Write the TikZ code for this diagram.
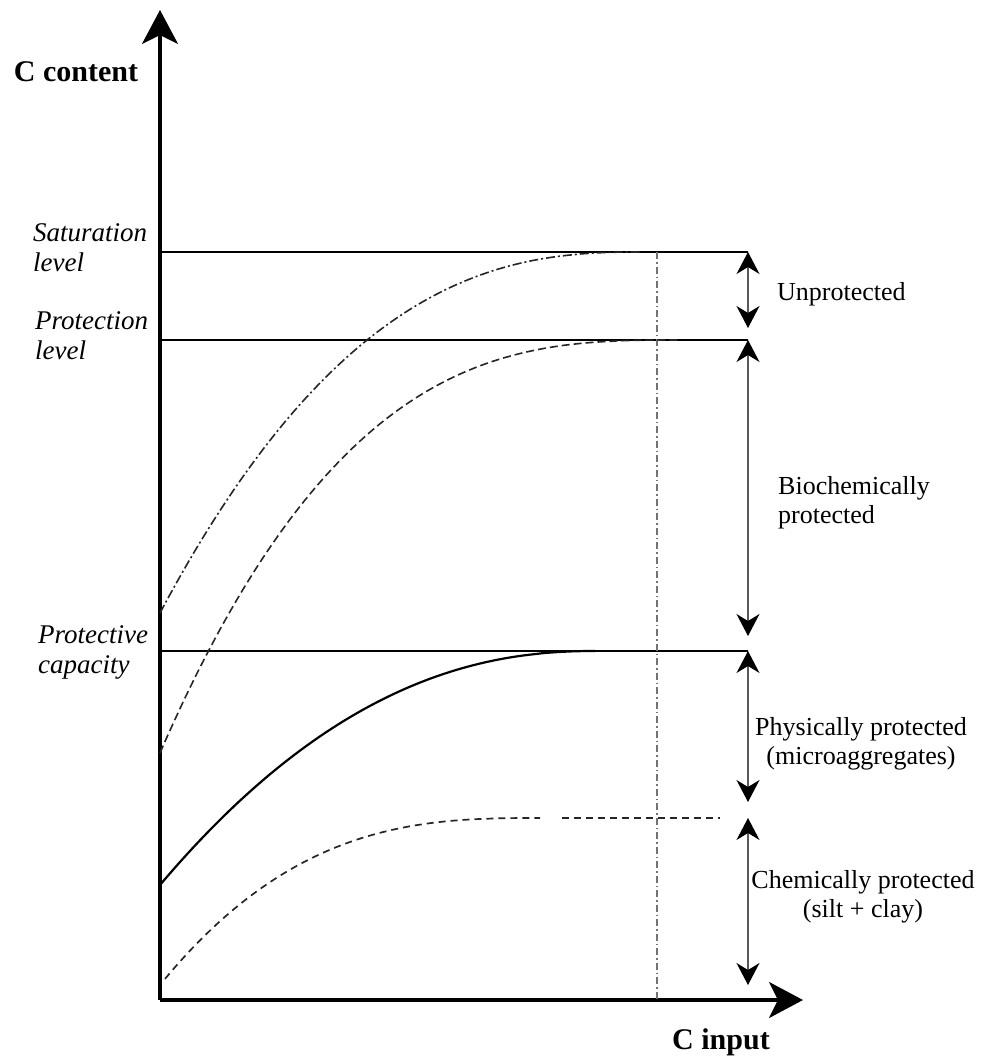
\documentclass[tikz,border=0pt]{standalone}
\usepackage{fontspec}
\setmainfont{Liberation Serif}
\usetikzlibrary{arrows.meta}
\begin{document}
\begin{tikzpicture}[x=1pt,y=-1pt,
  axis/.style={line width=3.2pt,-{Stealth[length=34pt,width=36pt,inset=9pt]}},
  level/.style={line width=1.8pt},
  dimarrow/.style={line width=1.4pt,black!65,
    {Stealth[length=22pt,width=23pt,inset=7pt,black]}-{Stealth[length=22pt,width=23pt,inset=7pt,black]}},
  lvlabel/.style={font=\fontsize{27}{30}\selectfont\itshape,align=left,anchor=west,inner sep=0pt},
  poolabel/.style={font=\fontsize{26}{29}\selectfont,inner sep=0pt},
  axlabel/.style={font=\fontsize{30}{33}\selectfont\bfseries,inner sep=0pt},
  satcurve/.style={line width=1.6pt,black!85,dash pattern=on 9pt off 3pt on 2pt off 3pt},
  protcurve/.style={line width=1.6pt,black!85,dash pattern=on 8pt off 4pt},
  capcurve/.style={line width=2.2pt,black},
  chemcurve/.style={line width=1.7pt,black!85,dash pattern=on 7pt off 5pt},
  guide/.style={line width=1.1pt,black!55,dash pattern=on 7pt off 3pt on 1.5pt off 3pt}]
\useasboundingbox (0,0) rectangle (984,1061);

% axes
\coordinate (O) at (160,1000);
\coordinate (ytop) at (160,10);
\coordinate (xend) at (803,1000);
\draw[axis] (O) -- (ytop);
\draw[axis] (O) -- (xend);
\node[axlabel] (ylab) at (76,72) {C content};
\node[axlabel] (xlab) at (721,1042) {C input};

% levels
\coordinate (satL) at (160,252);  \coordinate (satR) at (748,252);
\coordinate (proL) at (160,340);  \coordinate (proR) at (748,340);
\coordinate (capL) at (160,651);  \coordinate (capR) at (748,651);
\coordinate (chemA) at (562,818); \coordinate (chemB) at (720,818);
\draw[level] (satL) -- (satR);
\draw[level] (proL) -- (proR);
\draw[level,line width=2.6pt] (capL) -- (capR);

% vertical guide at the input where the curves level off
\coordinate (gTop) at (657,252);
\coordinate (gBot) at (657,1000);
\draw[guide] (gTop) -- (gBot);

% saturation curves: level off with zero slope at their end input
\draw[satcurve] plot[domain=160:640,samples=90,smooth] (\x,{252+361*(1-(\x-160)/480)^2.5});
\draw[protcurve] plot[domain=160:680,samples=90,smooth] (\x,{340+413*(1-(\x-160)/520)^2.9});
\draw[capcurve] plot[domain=160:595,samples=90,smooth] (\x,{651+234*(1-(\x-160)/435)^2.2});
\draw[chemcurve] plot[domain=165:540,samples=70,smooth] (\x,{818+167*(1-(\x-160)/380)^2.8});
\draw[chemcurve] (chemA) -- (chemB);

% level labels
\node[lvlabel] (sat) at (33,248) {Saturation\\level};
\node[lvlabel] (pro) at (35,336) {Protection\\level};
\node[lvlabel] (cap) at (38,652) {Protective\\capacity};

% pool arrows
\coordinate (u1) at (748,252); \coordinate (u2) at (748,328);
\coordinate (b1) at (748,340); \coordinate (b2) at (748,636);
\coordinate (p1) at (748,651); \coordinate (p2) at (748,802);
\coordinate (c1) at (748,818); \coordinate (c2) at (748,985);
\draw[dimarrow] (u1) -- (u2);
\draw[dimarrow] (b1) -- (b2);
\draw[dimarrow] (p1) -- (p2);
\draw[dimarrow] (c1) -- (c2);

% pool labels
\node[poolabel,anchor=west] (unp) at (777,294) {Unprotected};
\node[poolabel,anchor=west,align=left] (bio) at (778,503) {Biochemically\\protected};
\node[poolabel,align=center] (phy) at (861,744) {Physically protected\\(microaggregates)};
\node[poolabel,align=center] (chem) at (863,897) {Chemically protected\\(silt + clay)};
\end{tikzpicture}
\end{document}
